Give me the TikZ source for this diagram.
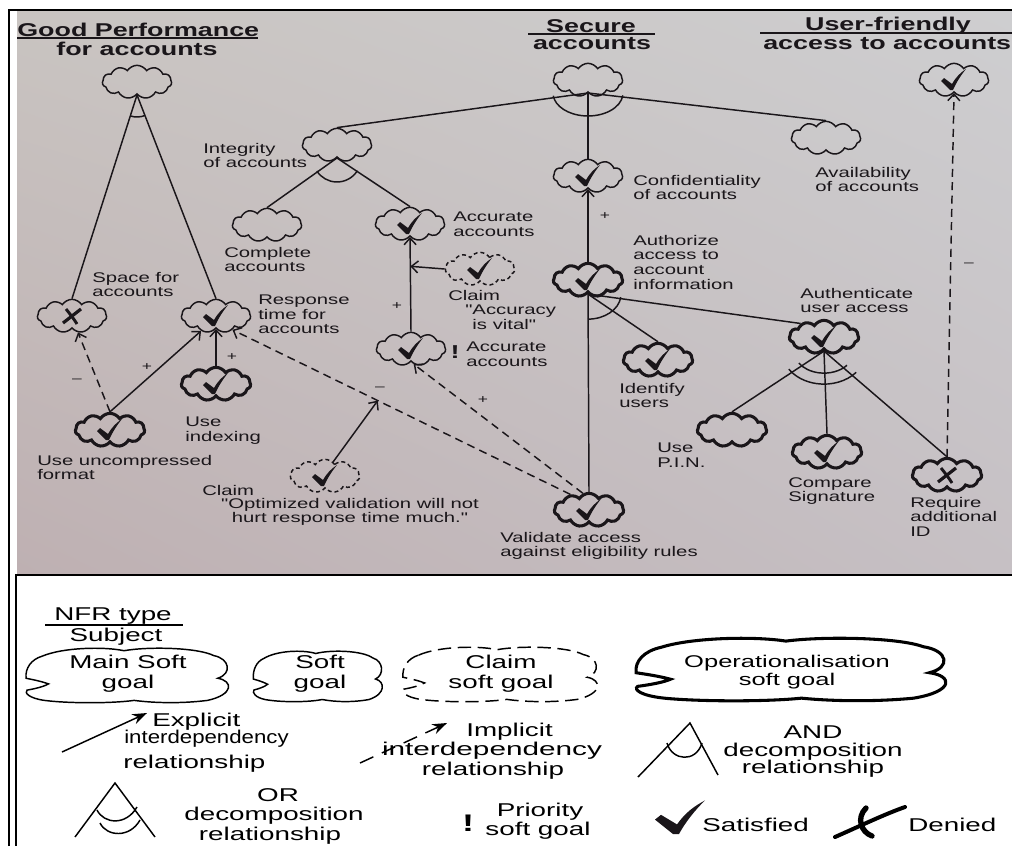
\documentclass[tikz,border=0pt]{standalone}
\usepackage{fontspec}
\setmainfont{Liberation Sans}
\newfontfamily\photofont{Liberation Sans}[FakeStretch=1.45]
\newfontfamily\keyfont{Liberation Sans}[FakeStretch=1.5]
\usetikzlibrary{shapes.symbols,arrows.meta,shadings}
\definecolor{ink}{RGB}{26,22,26}
\definecolor{bgul}{RGB}{201,196,193}
\definecolor{bgur}{RGB}{206,206,208}
\definecolor{bgll}{RGB}{190,176,178}
\definecolor{bglr}{RGB}{198,192,196}

% hand-drawn legend cloud: centre x, centre y, half width, half height, style
\newcommand\keycloud[5]{%
  \begin{scope}[shift={(#1,#2)},xscale=#3,yscale=#4]
    \draw[#5] (-0.82,-0.7)
      .. controls (-0.62,-1.02) and (-0.22,-1.06) .. (-0.02,-0.9)
      .. controls (0.22,-1.06) and (0.7,-1.02) .. (0.86,-0.72)
      .. controls (1.02,-0.6) and (1.04,-0.05) .. (0.9,0.12)
      .. controls (1.05,0.22) and (1.06,0.72) .. (0.8,0.94)
      .. controls (0.55,1.06) and (0.28,1.04) .. (0.08,0.94)
      .. controls (-0.15,1.06) and (-0.58,1.05) .. (-0.8,0.94)
      .. controls (-0.95,0.86) and (-1.0,0.66) .. (-0.97,0.56)
      .. controls (-0.88,0.5) and (-0.8,0.42) .. (-0.76,0.33)
      .. controls (-0.84,0.22) and (-0.93,0.16) .. (-0.98,0.12)
      .. controls (-0.99,-0.25) and (-0.93,-0.58) .. (-0.82,-0.7) -- cycle;
  \end{scope}}

\begin{document}
\begin{tikzpicture}[x=0.75pt,y=-0.75pt,
  goal/.style={cloud, cloud puffs=11, cloud puff arc=115, cloud ignores aspect,
    draw=ink, line width=1.1pt, minimum width=52pt, minimum height=25pt, inner sep=0pt},
  opgoal/.style={goal, line width=2.3pt},
  claimgoal/.style={goal, dash pattern=on 3pt off 2.2pt},
  lbl/.style={inner sep=0pt, anchor=north west, align=left, text=ink,
    font=\photofont\fontsize{10.5}{10.9}\selectfont},
  ttl/.style={inner sep=0pt, anchor=north, text=ink,
    font=\photofont\bfseries\fontsize{13.9}{14}\selectfont},
  sign/.style={inner sep=0pt, text=ink, font=\photofont\fontsize{9}{9}\selectfont},
  link/.style={draw=ink, line width=1.1pt},
  contrib/.style={link, -{Straight Barb[length=5pt,width=9pt]}},
  contribdash/.style={contrib, dash pattern=on 6pt off 4pt},
  keytext/.style={inner sep=0pt, anchor=north, align=center, text=black,
    font=\keyfont\fontsize{13.9}{15}\selectfont},
  keyline/.style={draw=black, line width=1.1pt},
  tick/.pic={\fill[ink] (-13,1) -- (-10,-2) -- (-2,4)
      .. controls (2,-3) and (6,-7) .. (12,-11)
      .. controls (7,-5) and (2,3) .. (-1,10) -- (-4,10) -- cycle;},
  deny/.pic={\draw[ink, line width=2.4pt] (-9,7) -- (9,-7);
      \draw[ink, line width=2.2pt] (-6,-7) .. controls (-2,-2) and (2,3) .. (5,8);}
]
\useasboundingbox (0,0) rectangle (1012,846);
\fill[white] (0,0) rectangle (1012,846);

% photographed page
\shade[upper left=bgul, upper right=bgur, lower left=bgll, lower right=bglr]
  (17,11) rectangle (1012,575);
\draw[black, line width=1.5pt] (8.5,846) -- (8.5,10) -- (1012,10);
\draw[black, line width=1.3pt] (1012,575) -- (16,575) -- (16,846);

% ---------- headings ----------
\node[ttl, anchor=north west] (t1) at (17,23) {Good Performance};
\draw[ink, line width=1pt] (17,38) -- (258,38);
\node[ttl] (t1b) at (137,42) {for accounts};
\node[ttl] (t2) at (591,19) {Secure};
\draw[ink, line width=1pt] (528,34) -- (655,34);
\node[ttl] (t2b) at (592,37) {accounts};
\node[ttl] (t3) at (888,17) {User-friendly};
\draw[ink, line width=1pt] (760,33) -- (1012,33);
\node[ttl, anchor=north west] (t3b) at (763,37) {access to accounts};

% ---------- softgoals ----------
\node[goal] (GP) at (137,82) {};
\node[goal] (SA) at (588,80) {};
\node[goal] (UF) at (954,80) {};
\node[goal] (IA) at (337,145) {};
\node[goal] (AV) at (826,138) {};
\node[goal] (CF) at (588,176) {};
\node[goal] (CA) at (267,225) {};
\node[goal] (AA1) at (410,224) {};
\node[claimgoal] (CAV) at (480,269) {};
\node[opgoal] (AU) at (588,280) {};
\node[goal] (SP) at (72,316) {};
\node[goal] (RT) at (216,316) {};
\node[goal] (AA2) at (411,349) {};
\node[opgoal] (ID) at (658,360) {};
\node[opgoal] (AUA) at (824,337) {};
\node[opgoal] (UI) at (216,384) {};
\node[opgoal] (PIN) at (732,430) {};
\node[opgoal] (UU) at (110,430) {};
\node[opgoal] (CS) at (827,452) {};
\node[opgoal] (RA) at (947,475) {};
\node[claimgoal] (CO) at (325,476) {};
\node[opgoal] (VA) at (589,510) {};

\foreach \n in {UF,CF,AA1,CAV,AU,RT,AA2,ID,AUA,UI,UU,CS,CO,VA}
  \pic at (\n) {tick};
\foreach \n in {SP,RA}
  \pic at (\n) {deny};

% ---------- decompositions ----------
\draw[link] (GP.south) -- (SP.north);
\draw[link] (GP.south) -- (RT.north);
\draw[link] (GP.south) ++(68.5:22) arc[start angle=68.5,end angle=107.7,radius=22];

\draw[link] (SA.south) -- (IA.north);
\draw[link] (SA.south) -- (CF.north);
\draw[link] (SA.south) -- (AV.north);
\draw[link] (SA.south) ++(6:35 and 23) arc[start angle=6,end angle=173,x radius=35,y radius=23];

\draw[link] (IA.south) -- (CA.north);
\draw[link] (IA.south) -- (AA1.north);
\draw[link] (IA.south) ++(32:24) arc[start angle=32,end angle=147,radius=24];

\draw[link] (AU.south) -- (VA.north);
\draw[link] (AU.south) -- (ID.north);
\draw[link] (AU.south) -- (AUA.150);
\draw[link] (AU.south) ++(7:33 and 25) arc[start angle=7,end angle=90,x radius=33,y radius=25];

\draw[link] (AUA.south) -- (PIN.north);
\draw[link] (AUA.south) -- (CS.north);
\draw[link] (AUA.south) -- (RA.north);
\draw[link] (AUA.south) ++(40:30 and 22) arc[start angle=40,end angle=147,x radius=30,y radius=22];
\draw[link] (AUA.south) ++(40:42 and 33) arc[start angle=40,end angle=147,x radius=42,y radius=33];

% ---------- contributions ----------
\draw[contrib] (UI.north) -- (RT.south);
\draw[contrib] (UU.north) -- (RT.225);
\draw[contribdash] (UU.north) -- (SP.290);
\draw[contribdash] (VA.140) -- (RT.320) coordinate[pos=0.57] (hit);
\draw[contrib] (CO.60) -- (hit);
\draw[contrib] (AA2.north) -- (AA1.south) coordinate[pos=0.69] (hit2);
\draw[contrib] (CAV.west) -- (hit2);
\draw[contribdash] (VA.110) -- (AA2.280);
\draw[contrib] (AU.north) -- (CF.south);
\draw[contribdash] (RA.north) -- (UF.south);

\node[sign] (s1) at (232,357) {+};
\node[sign] (s2) at (147,367) {+};
\node[sign] (s3) at (77,381) {\textendash};
\node[sign] (s4) at (380,389) {\textendash};
\node[sign] (s5) at (397,306) {+};
\node[sign] (s6) at (483,400) {+};
\node[sign] (s7) at (605,216) {+};
\node[sign] (s8) at (969,265) {\textendash};
\node[inner sep=0pt, text=ink, font=\photofont\bfseries\fontsize{14}{14}\selectfont] (prio) at (455,352) {!};

% ---------- softgoal labels ----------
\node[lbl] (lIA) at (203,143) {Integrity\\of accounts};
\node[lbl] (lCA) at (224,247) {Complete\\accounts};
\node[lbl] (lSP) at (92,272) {Space for\\accounts};
\node[lbl] (lRT) at (258,295) {Response\\time for\\accounts};
\node[lbl] (lUI) at (185,417) {Use\\indexing};
\node[lbl] (lUU) at (37,455) {Use uncompressed\\format};
\node[lbl] (lCO) at (202,485) {Claim};
\node[lbl, anchor=north, align=center] (lCOq) at (350,498) {"Optimized validation will not\\hurt response time much."};
\node[lbl] (lAA1) at (453,212) {Accurate\\accounts};
\node[lbl] (lCAV) at (448,290) {Claim};
\node[lbl] (lCAVq) at (465,305) {"Accuracy\\\hphantom{"}is vital"};
\node[lbl] (lAA2) at (466,342) {Accurate\\accounts};
\node[lbl] (lCF) at (633,175) {Confidentiality\\of accounts};
\node[lbl] (lAV) at (815,167) {Availability\\of accounts};
\node[lbl] (lAU) at (633,235) {Authorize\\access to\\account\\information};
\node[lbl] (lID) at (619,383) {Identify\\users};
\node[lbl] (lAUA) at (800,288) {Authenticate\\user access};
\node[lbl] (lPIN) at (657,443) {Use\\P.I.N.};
\node[lbl] (lCS) at (788,477) {Compare\\Signature};
\node[lbl] (lRA) at (910,497) {Require\\additional\\ID};
\node[lbl] (lVA) at (500,532) {Validate access\\against eligibility rules};

% ---------- legend ----------
\node[keytext] (kn1) at (113,607) {NFR type};
\draw[keyline] (45,625) -- (183,625);
\node[keytext] (kn2) at (116,628) {Subject};

\keycloud{126}{675}{102}{27}{black, line width=1.1pt}
\keycloud{317}{676}{65}{25}{black, line width=1.1pt}
\keycloud{499}{674}{98}{27}{black, line width=1.1pt, dash pattern=on 10pt off 5pt}
\keycloud{789}{669}{156}{31}{black, line width=2.3pt}
\node[keytext] (k1) at (128,655) {Main Soft\\goal};
\node[keytext] (k2) at (320,655) {Soft\\goal};
\node[keytext] (k3) at (501,655) {Claim\\soft goal};
\node[keytext, font=\keyfont\fontsize{12.75}{13.5}\selectfont] (k4) at (787,655) {Operationalisation\\soft goal};

\coordinate (e0) at (62,752);
\coordinate (e1) at (147,713);
\draw[keyline, -{Stealth[length=11pt,width=8pt]}] (e0) -- (e1);
\node[keytext, anchor=north west] (k5a) at (152,713) {Explicit};
\node[keytext, anchor=north west] (k5b) at (124,730) {\scalebox{0.8}[1]{interdependency}};
\node[keytext, anchor=north west] (k5c) at (123,755) {relationship};

\coordinate (i0) at (360,763);
\coordinate (i1) at (447,723);
\draw[keyline, dash pattern=on 11pt off 7pt, -{Stealth[length=11pt,width=8pt]}] (i0) -- (i1);
\node[keytext, anchor=north west] (k6a) at (466,723) {Implicit};
\node[keytext] (k6b) at (492,742) {\scalebox{1.07}[1]{interdependency}};
\node[keytext] (k6c) at (493,762) {relationship};

\coordinate (a0) at (690,723);
\coordinate (a1) at (638,777);
\coordinate (a2) at (718,775);
\draw[keyline] (a1) -- (a0) -- (a2);
\draw[keyline] (667,743) .. controls (672,761) and (696,763) .. (702,743);
\node[keytext] (k7a) at (813,725) {AND};
\node[keytext] (k7b) at (813,743) {decomposition};
\node[keytext] (k7c) at (813,760) {relationship};

\coordinate (o0) at (115,783);
\coordinate (o1) at (75,837);
\coordinate (o2) at (155,837);
\draw[keyline] (o1) -- (o0) -- (o2);
\draw[keyline] (97,810) .. controls (104,824) and (126,826) .. (137,807);
\draw[keyline] (100,823) .. controls (107,837) and (130,838) .. (140,820);
\node[keytext] (k8a) at (278,788) {OR};
\node[keytext] (k8b) at (274,807) {decomposition};
\node[keytext] (k8c) at (270,827) {relationship};

\node[inner sep=0pt, font=\keyfont\bfseries\fontsize{18}{18}\selectfont] (k9a) at (468,823) {!};
\node[keytext] (k9b) at (540,803) {Priority};
\node[keytext] (k9c) at (538,822) {soft goal};

\pic[xscale=2, yscale=1.6] at (681,818) {tick};
\node[keytext, anchor=north west] (k10) at (702,818) {Satisfied};
\draw[black, line width=3pt, line cap=round] (835,837) .. controls (860,826) and (885,814) .. (905,807);
\draw[black, line width=4pt, line cap=round] (866,808) .. controls (856,818) and (861,832) .. (872,836);
\node[keytext, anchor=north west] (k11) at (908,818) {Denied};
\end{tikzpicture}
\end{document}
